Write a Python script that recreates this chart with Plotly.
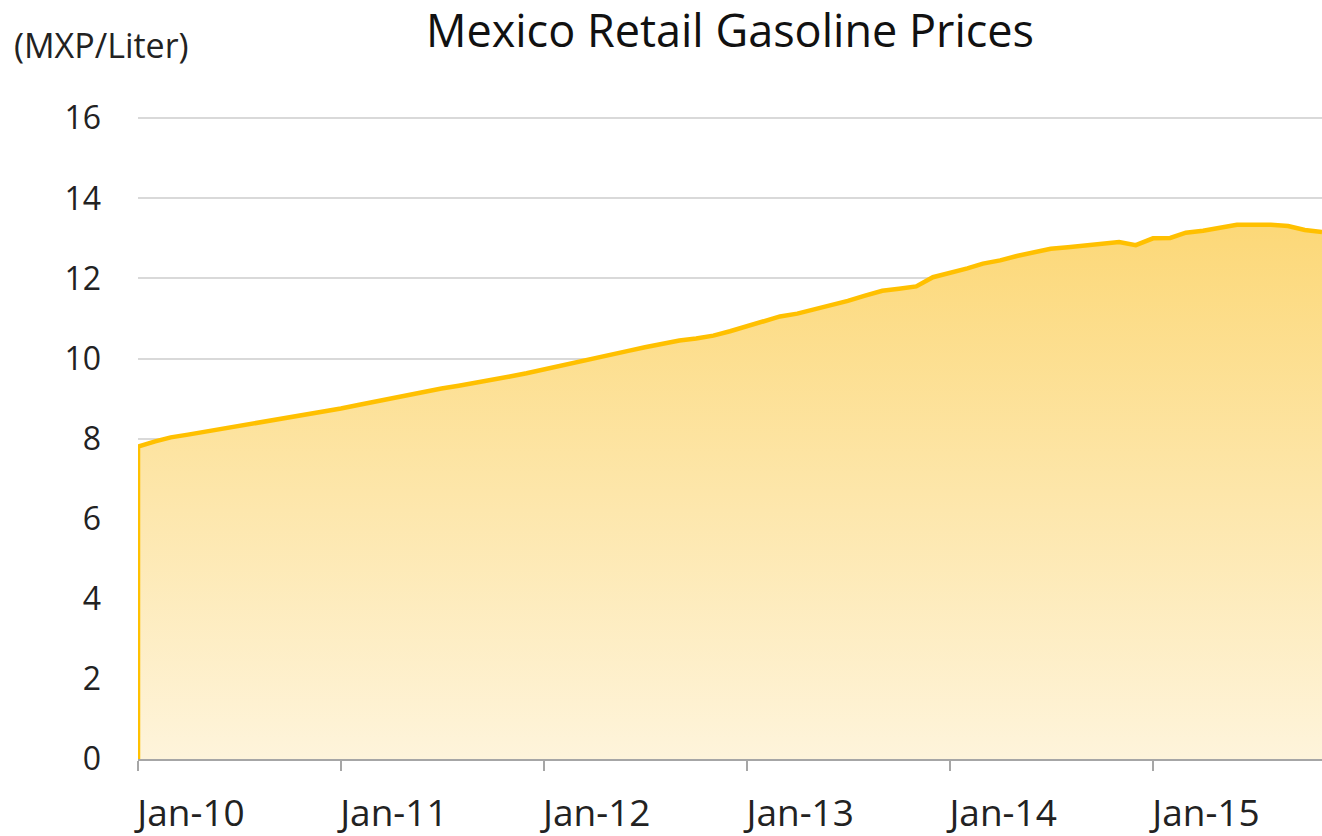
import plotly.graph_objects as go
import pandas as pd

# Monthly data, Jan-2010 .. Nov-2015 (MXP per liter)
months = pd.date_range("2010-01-01", "2015-11-01", freq="MS")
prices = [
    7.80, 7.93, 8.03, 8.10, 8.17, 8.23, 8.31, 8.39, 8.46, 8.53, 8.60, 8.68,
    8.75, 8.84, 8.92, 9.00, 9.09, 9.17, 9.25, 9.32, 9.39, 9.47, 9.55, 9.63,
    9.72, 9.82, 9.92, 10.01, 10.10, 10.19, 10.28, 10.37, 10.45, 10.50, 10.57, 10.68,
    10.80, 10.94, 11.05, 11.12, 11.22, 11.34, 11.44, 11.57, 11.69, 11.74, 11.80, 12.03,
    12.13, 12.25, 12.37, 12.45, 12.56, 12.65, 12.74, 12.78, 12.83, 12.87, 12.91, 12.83,
    13.00, 13.01, 13.14, 13.19, 13.25, 13.34, 13.34, 13.34, 13.31, 13.21, 13.16,
]
tick_dates = pd.date_range("2010-01-01", "2015-01-01", freq="YS")
tick_labels = ["Jan-10", "Jan-11", "Jan-12", "Jan-13", "Jan-14", "Jan-15"]
y_ticks = list(range(0, 17, 2))

FONT = "Open Sans"

# baseline point at the first month so the border runs down the left edge (as in Excel)
xs = [months[0]] + list(months)
ys = [0] + prices

fig = go.Figure()
fig.add_trace(go.Scatter(
    x=xs, y=ys, mode="lines",
    line=dict(color="#FFC000", width=4.5),
    fill="tozeroy",
    fillgradient=dict(type="vertical", start=0, stop=max(prices),
                      colorscale=[[0, "#FEF4DB"], [1, "#FCD878"]]),
    hoverinfo="skip", showlegend=False,
))

fig.update_layout(
    width=1322, height=836,
    margin=dict(l=138, r=0, t=117, b=77, autoexpand=False),
    paper_bgcolor="white", plot_bgcolor="white",
    title=dict(text="Mexico Retail Gasoline Prices", x=0.5, xref="paper",
               y=1 - 31 / 836, yref="container", yanchor="middle",
               font=dict(family=FONT, size=45, color="#111111")),
    font=dict(family=FONT, color="#222222"),
    xaxis=dict(
        range=[months[0], months[-1]],
        tickvals=tick_dates, ticktext=tick_labels,
        showgrid=False, showline=True, linecolor="#A6A6A6", linewidth=2,
        ticks="outside", ticklen=10, tickwidth=2, tickcolor="#A6A6A6",
        tickfont=dict(family=FONT, size=37, color="#222222"),
        ticklabelshift=53, ticklabelstandoff=11,
        zeroline=False, automargin=False,
    ),
    yaxis=dict(
        range=[0, 16.03], tickvals=y_ticks,
        showgrid=True, gridcolor="#D9D9D9", gridwidth=2,
        showline=False, zeroline=False, ticks="",
        tickfont=dict(family=FONT, size=32, color="#222222"),
        ticklabelstandoff=36, automargin=False,
    ),
)

fig.add_annotation(text="(MXP/Liter)", xref="paper", yref="paper",
                   x=(12 - 138) / 1184, y=1 + 72 / 642, xanchor="left", yanchor="middle",
                   showarrow=False, font=dict(family=FONT, size=34, color="#222222"))

fig.write_html(
    "out.html",
    config={"displayModeBar": False},
    post_script="document.body.style.margin='0';document.body.style.overflow='hidden';",
)
